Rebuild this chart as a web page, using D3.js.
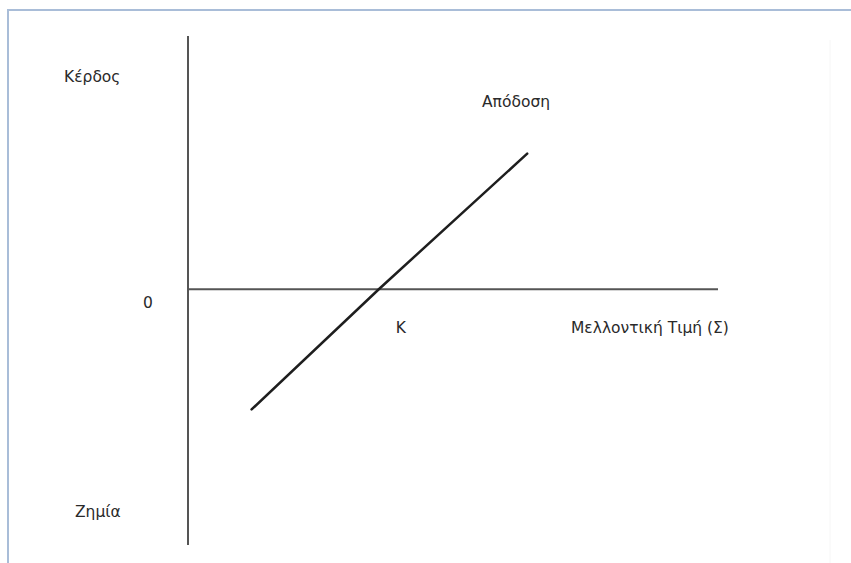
<!DOCTYPE html>
<html>
<head>
<meta charset="utf-8">
<script src="https://cdn.jsdelivr.net/npm/d3@7"></script>
<style>
  body { margin: 0; background: #fff; }
  svg { display: block; }
  .lbl { font-family: "DejaVu Sans", Verdana, sans-serif; font-size: 15.5px; fill: #2a2a2a; }
</style>
</head>
<body>
<div id="chart"></div>
<script>
// datos del diagrama (precio futuro vs beneficio)
var precio = [12, 36, 64];
var beneficio = [-47, 0, 53];
var strike = 36;
var etiquetas = {
    kerdos: "Κέρδος",
    zimia: "Ζημία",
    cero: "0",
    apodosi: "Απόδοση",
    k: "K",
    ejeX: "Μελλοντική Τιμή (Σ)"
};

var W = 851, H = 563;

var svg = d3.select("#chart").append("svg")
    .attr("width", W)
    .attr("height", H);

// marco azul claro
svg.append("rect")
    .attr("x", 8).attr("y", 10)
    .attr("width", W).attr("height", H)
    .attr("fill", "none")
    .attr("stroke", "#a9bdd8")
    .attr("stroke-width", 2);
svg.append("line")
    .attr("x1", 830).attr("x2", 830)
    .attr("y1", 40).attr("y2", H)
    .attr("stroke", "#f6f6f6");

var xScale = d3.scaleLinear().domain([0, 100]).range([188, 718]);
var yScale = d3.scaleLinear().domain([-100, 99]).range([545, 36]);

// ejes
svg.append("line")
    .attr("x1", xScale(0)).attr("x2", xScale(0))
    .attr("y1", yScale(99)).attr("y2", yScale(-100))
    .attr("stroke", "#555").attr("stroke-width", 2);
svg.append("line")
    .attr("x1", xScale(0)).attr("x2", xScale(100))
    .attr("y1", yScale(0)).attr("y2", yScale(0))
    .attr("stroke", "#555").attr("stroke-width", 2);

// linea de rendimiento
var linea = d3.line()
    .x(function(d, i){ return xScale(precio[i]); })
    .y(function(d){ return yScale(d); });

svg.append("path")
    .datum(beneficio)
    .attr("d", linea)
    .attr("fill", "none")
    .attr("stroke", "#1e1e1e")
    .attr("stroke-width", 2.5)
    .attr("stroke-linecap", "round");

// textos
function texto(t, x, y) {
    svg.append("text").attr("class", "lbl").attr("x", x).attr("y", y).text(t);
}
texto(etiquetas.kerdos, 64, 82);
texto(etiquetas.cero, 143, yScale(0) + 19);
texto(etiquetas.zimia, 75, 517);
texto(etiquetas.apodosi, 482, 107);
texto(etiquetas.k, xScale(strike) + 17, yScale(0) + 44);
texto(etiquetas.ejeX, 571, yScale(0) + 44);
</script>
</body>
</html>
